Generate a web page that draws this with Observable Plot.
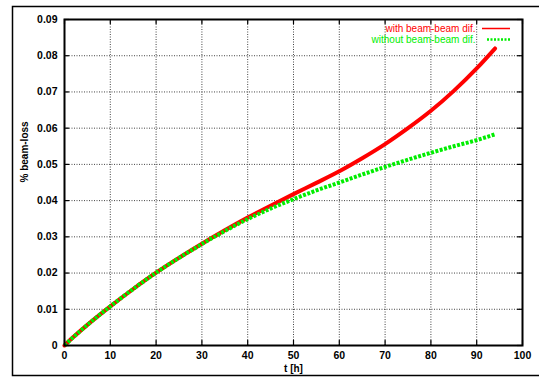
<!DOCTYPE html>
<html>
<head>
<meta charset="utf-8">
<script src="https://cdn.jsdelivr.net/npm/d3@7"></script>
<script src="https://cdn.jsdelivr.net/npm/@observablehq/plot@0.6"></script>
<style>
  html, body { margin: 0; padding: 0; background: #fff; }
  #chart { width: 539px; height: 377px; overflow: hidden; }
</style>
</head>
<body>
<div id="chart"></div>
<script>
// ---- data ----
const hours = [0, 2, 5, 10, 15, 20, 25, 30, 35, 40, 45, 50, 55, 60, 65, 70, 75, 80, 85, 90, 94];
const withBB = [0, 0.0024, 0.0057, 0.0108, 0.0156, 0.0201, 0.0242, 0.0281, 0.0318, 0.0353, 0.0386, 0.0418, 0.0449, 0.0481, 0.0517, 0.0556, 0.0600, 0.0648, 0.0703, 0.0765, 0.0820];
const withoutBB = [0, 0.0024, 0.0057, 0.0108, 0.0156, 0.0201, 0.0242, 0.0280, 0.0316, 0.0349, 0.0378, 0.0404, 0.0428, 0.0450, 0.0472, 0.0493, 0.0513, 0.0532, 0.0550, 0.0567, 0.0583];
const xTicks = [0, 10, 20, 30, 40, 50, 60, 70, 80, 90, 100];
const yTicks = [0, 0.01, 0.02, 0.03, 0.04, 0.05, 0.06, 0.07, 0.08, 0.09];
const seriesNames = ["with beam-beam dif.", "without beam-beam dif."];
const seriesColors = ["#ff0000", "#00ee00"];

const withData = hours.map((t, i) => ({t, v: withBB[i]}));
const withoutData = hours.map((t, i) => ({t, v: withoutBB[i]}));

const W = 539, H = 377;
const mL = 64, mR = 17, mT = 19, mB = 32;
const font = "'Liberation Sans', Arial, Helvetica, sans-serif";

const tickLenX = 5 / (W - mL - mR) * 100;
const tickLenY = 5 / (H - mT - mB) * 0.09;
const fmtY = d => d === 0 ? "0" : d3.format(".2f")(d);

const chart = Plot.plot({
  width: W,
  height: H,
  marginLeft: mL,
  marginRight: mR,
  marginTop: mT,
  marginBottom: mB,
  style: {fontFamily: font, fontSize: "10px", fontWeight: "bold", color: "#000", background: "transparent"},
  x: {domain: [0, 100], ticks: xTicks, label: null},
  y: {domain: [0, 0.09], ticks: yTicks, label: null, tickFormat: fmtY},
  marks: [
    Plot.gridX(xTicks.slice(1, -1), {stroke: "#444", strokeOpacity: 1, strokeDasharray: "1,1.5", strokeWidth: 1}),
    Plot.gridY(yTicks.slice(1, -1), {stroke: "#444", strokeOpacity: 1, strokeDasharray: "1,1.5", strokeWidth: 1}),
    Plot.axisX({ticks: xTicks, tickSize: 0, tickPadding: 6, label: null, fontWeight: "bold", fontSize: 10.5}),
    Plot.axisY({ticks: yTicks, tickSize: 0, tickPadding: 7, label: null, fontWeight: "bold", fontSize: 10.5, tickFormat: fmtY}),
    // inward ticks (bottom / top / left / right)
    Plot.ruleX(xTicks, {y1: 0, y2: tickLenY, stroke: "#000", strokeWidth: 1.2}),
    Plot.ruleX(xTicks, {y1: 0.09 - tickLenY, y2: 0.09, stroke: "#000", strokeWidth: 1.2}),
    Plot.ruleY(yTicks, {x1: 0, x2: tickLenX, stroke: "#000", strokeWidth: 1.2}),
    Plot.ruleY(yTicks, {x1: 100 - tickLenX, x2: 100, stroke: "#000", strokeWidth: 1.2}),
    Plot.line(withData, {x: "t", y: "v", stroke: seriesColors[0], strokeWidth: 4, curve: "monotone-x"}),
    Plot.line(withoutData, {x: "t", y: "v", stroke: seriesColors[1], strokeWidth: 4, strokeDasharray: "3,1.5", strokeLinecap: "butt", curve: "monotone-x"}),
    Plot.frame({stroke: "#000", strokeWidth: 2}),
    // legend text
    Plot.text([seriesNames[0]], {frameAnchor: "top-right", dx: -47, dy: 9.5, lineAnchor: "middle", text: d => d, fill: seriesColors[0], textAnchor: "end", fontSize: 10, fontWeight: "normal"}),
    Plot.text([seriesNames[1]], {frameAnchor: "top-right", dx: -47, dy: 20.5, lineAnchor: "middle", text: d => d, fill: seriesColors[1], textAnchor: "end", fontSize: 10, fontWeight: "normal"}),
    // axis labels
    Plot.text(["t [h]"], {frameAnchor: "bottom", dy: 23, lineAnchor: "middle", text: d => d, fontWeight: "bold", fontSize: 10}),
    Plot.text(["% beam-loss"], {frameAnchor: "left", dx: -40, rotate: -90, text: d => d, fontWeight: "bold", fontSize: 10})
  ]
});

// legend samples and outer border
const svg = d3.select(chart);
svg.append("line").attr("x1", 482).attr("x2", 510).attr("y1", 28.5).attr("y2", 28.5)
  .attr("stroke", seriesColors[0]).attr("stroke-width", 1.5);
svg.append("line").attr("x1", 487).attr("x2", 511).attr("y1", 39.5).attr("y2", 39.5)
  .attr("stroke", seriesColors[1]).attr("stroke-width", 2.5).attr("stroke-dasharray", "2,1.5");
svg.append("rect").attr("x", 12.5).attr("y", 6.5).attr("width", 540).attr("height", 369)
  .attr("fill", "none").attr("stroke", "#000").attr("stroke-width", 1.5);

document.getElementById("chart").appendChild(chart);
</script>
</body>
</html>
